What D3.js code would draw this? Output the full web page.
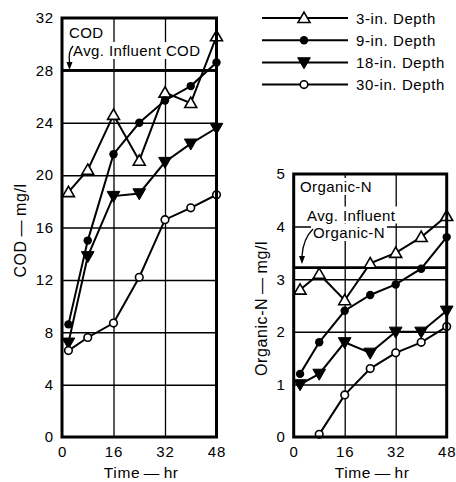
<!DOCTYPE html>
<html>
<head>
<meta charset="utf-8">
<script src="https://cdn.jsdelivr.net/npm/d3@7"></script>
<style>
  html, body { margin: 0; padding: 0; background: #fff; }
  svg { display: block; font-family: "Liberation Sans", Arial, Helvetica, sans-serif; }
</style>
</head>
<body>
<svg id="chart" width="456" height="482"></svg>
<script>
// Sampling times (hr)
const timeHr = [2, 8, 16, 24, 32, 40, 48];

// COD (mg/l) at each depth
const codDepth3  = [18.7, 20.4, 24.6, 21.1, 26.3, 25.5, 30.6];
const codDepth9  = [8.6, 15.0, 21.6, 24.0, 25.7, 26.8, 28.6];
const codDepth18 = [7.2, 13.8, 18.4, 18.6, 21.0, 22.4, 23.6];
const codDepth30 = [6.6, 7.6, 8.7, 12.2, 16.6, 17.5, 18.5];

// Organic-N (mg/l) at each depth
const orgNDepth3  = [2.8, 3.1, 2.6, 3.3, 3.5, 3.8, 4.2];
const orgNDepth9  = [1.2, 1.8, 2.4, 2.7, 2.9, 3.2, 3.8];
const orgNDepth18 = [1.0, 1.2, 1.8, 1.6, 2.0, 2.0, 2.4];
const orgNDepth30 = [null, 0.05, 0.8, 1.3, 1.6, 1.8, 2.1];

// Average influent concentrations
const avgInfluentCOD = 28;
const avgInfluentOrgN = 3.22;

// Series names and tick values
const seriesNames = ["3-in. Depth", "9-in. Depth", "18-in. Depth", "30-in. Depth"];
const timeTicks = [0, 16, 32, 48];
const codTicks = [0, 4, 8, 12, 16, 20, 24, 28, 32];
const orgNTicks = [0, 1, 2, 3, 4, 5];

const svg = d3.select("#chart");
const markerKinds = ["triUp", "dot", "triDown", "ring"];

function drawMarker(g, kind, x, y) {
  if (kind === "triUp") {
    g.append("path").attr("d", d3.symbol(d3.symbolTriangle, 62)())
      .attr("transform", `translate(${x},${y + 1})`)
      .attr("fill", "#fff").attr("stroke", "#000").attr("stroke-width", 1.6);
  } else if (kind === "triDown") {
    g.append("path").attr("d", d3.symbol(d3.symbolTriangle, 70)())
      .attr("transform", `translate(${x},${y - 1}) rotate(180)`)
      .attr("fill", "#000").attr("stroke", "#000").attr("stroke-width", 1);
  } else if (kind === "dot") {
    g.append("circle").attr("cx", x).attr("cy", y).attr("r", 4.2).attr("fill", "#000");
  } else {
    g.append("circle").attr("cx", x).attr("cy", y).attr("r", 3.8)
      .attr("fill", "#fff").attr("stroke", "#000").attr("stroke-width", 1.6);
  }
}

function labelWithBg(g, x, y, text, size) {
  const t = g.append("text").attr("x", x).attr("y", y)
    .attr("font-size", size).attr("letter-spacing", 0.4).text(text);
  const b = t.node().getBBox();
  g.insert("rect", () => t.node()).attr("x", b.x - 2).attr("y", b.y)
    .attr("width", b.width + 4).attr("height", b.height).attr("fill", "#fff");
  return t;
}

function panel(opts) {
  const { x, y, yTicks, series, avg, title, labels, arrow, yTitle, yTitleX } = opts;
  const g = svg.append("g");
  const [x0, x1] = x.range();
  const [y0, y1] = y.range();

  // gridlines via axes
  g.append("g").attr("transform", `translate(${x0},0)`)
    .call(d3.axisLeft(y).tickValues(yTicks.slice(1, -1)).tickSize(-(x1 - x0)).tickFormat(""))
    .call(s => s.select(".domain").remove())
    .call(s => s.selectAll("line").attr("stroke", "#000").attr("stroke-width", 1.5));
  g.append("g").attr("transform", `translate(0,${y0})`)
    .call(d3.axisBottom(x).tickValues(timeTicks.slice(1, -1)).tickSize(-(y0 - y1)).tickFormat(""))
    .call(s => s.select(".domain").remove())
    .call(s => s.selectAll("line").attr("stroke", "#000").attr("stroke-width", 1.3));

  // tick labels
  g.append("g").attr("transform", `translate(${x0},0)`)
    .call(d3.axisLeft(y).tickValues(yTicks).tickSize(0).tickPadding(8).tickFormat(d3.format("d")))
    .call(s => s.select(".domain").remove())
    .call(s => s.attr("font-size", 15).attr("font-family", null))
    .call(s => s.selectAll("text").attr("letter-spacing", 0.8).attr("fill", "#000"));
  g.append("g").attr("transform", `translate(0,${y0})`)
    .call(d3.axisBottom(x).tickValues(timeTicks).tickSize(0).tickPadding(9).tickFormat(d3.format("d")))
    .call(s => s.select(".domain").remove())
    .call(s => s.attr("font-size", 15).attr("font-family", null))
    .call(s => s.selectAll("text").attr("letter-spacing", 0.8).attr("fill", "#000"));

  // in-plot labels with white backing
  labelWithBg(g, title[0], title[1], title[2], 15);
  labels.forEach(l => labelWithBg(g, l[0], l[1], l[2], 15));

  // arrow to average line
  g.append("path").attr("d", arrow).attr("fill", "none").attr("stroke", "#000").attr("stroke-width", 1.3);
  const tip = opts.arrowTip;
  g.append("path")
    .attr("d", `M${tip[0]},${tip[1]} L${tip[0] - 3},${tip[1] - 8} L${tip[0] + 3},${tip[1] - 8} Z`)
    .attr("fill", "#000");

  // average influent line
  g.append("line").attr("x1", x0).attr("x2", x1).attr("y1", y(avg)).attr("y2", y(avg))
    .attr("stroke", "#000").attr("stroke-width", 2.6);

  // data lines
  const line = d3.line().defined(d => d[1] != null).x(d => x(d[0])).y(d => y(d[1]));
  series.forEach((vals, i) => {
    const pts = timeHr.map((t, j) => [t, vals[j]]);
    g.append("path").attr("d", line(pts)).attr("fill", "none")
      .attr("stroke", "#000").attr("stroke-width", 2);
    pts.filter(p => p[1] != null).forEach(p => drawMarker(g, markerKinds[i], x(p[0]), y(p[1])));
  });

  // frame
  g.append("rect").attr("x", x0).attr("y", y1).attr("width", x1 - x0).attr("height", y0 - y1)
    .attr("fill", "none").attr("stroke", "#000").attr("stroke-width", 3);

  // axis titles
  g.append("text").attr("x", (x0 + x1) / 2 + 2).attr("y", y0 + 41)
    .attr("text-anchor", "middle").attr("font-size", 15.5).attr("letter-spacing", 0.6).text("Time\u2009\u2014\u2009hr");
  g.append("text").attr("transform", `translate(${yTitleX},${(y0 + y1) / 2 + 3}) rotate(-90)`)
    .attr("text-anchor", "middle").attr("font-size", 16).attr("letter-spacing", 0.6).text(yTitle);
}

panel({
  x: d3.scaleLinear([0, 48], [62, 216.5]),
  y: d3.scaleLinear([0, 32], [437, 18]),
  yTicks: codTicks,
  series: [codDepth3, codDepth9, codDepth18, codDepth30],
  avg: avgInfluentCOD,
  title: [69, 37.5, "COD"],
  labels: [[73, 56, "Avg. Influent COD"]],
  arrow: "M73,46 Q68,52 69.5,62",
  arrowTip: [69.5, 70],
  yTitle: "COD\u2009\u2014\u2009mg/l",
  yTitleX: 26
});

panel({
  x: d3.scaleLinear([0, 48], [293.7, 446.7]),
  y: d3.scaleLinear([0, 5], [437, 174]),
  yTicks: orgNTicks,
  series: [orgNDepth3, orgNDepth9, orgNDepth18, orgNDepth30],
  avg: avgInfluentOrgN,
  title: [300, 192, "Organic-N"],
  labels: [[307, 220.5, "Avg. Influent"], [313, 238, "Organic-N"]],
  arrow: "M313,229 Q303,239 302,256",
  arrowTip: [302, 264],
  yTitle: "Organic-N\u2009\u2014\u2009mg/l",
  yTitleX: 267
});

// legend
const legend = svg.append("g");
seriesNames.forEach((name, i) => {
  const ly = 18 + i * 22.2;
  legend.append("line").attr("x1", 262).attr("x2", 348).attr("y1", ly).attr("y2", ly)
    .attr("stroke", "#000").attr("stroke-width", 2);
  drawMarker(legend, markerKinds[i], 304, ly);
  legend.append("text").attr("x", 356).attr("y", ly + 5.5)
    .attr("font-size", 15).attr("letter-spacing", 0.6).text(name);
});
</script>
</body>
</html>
